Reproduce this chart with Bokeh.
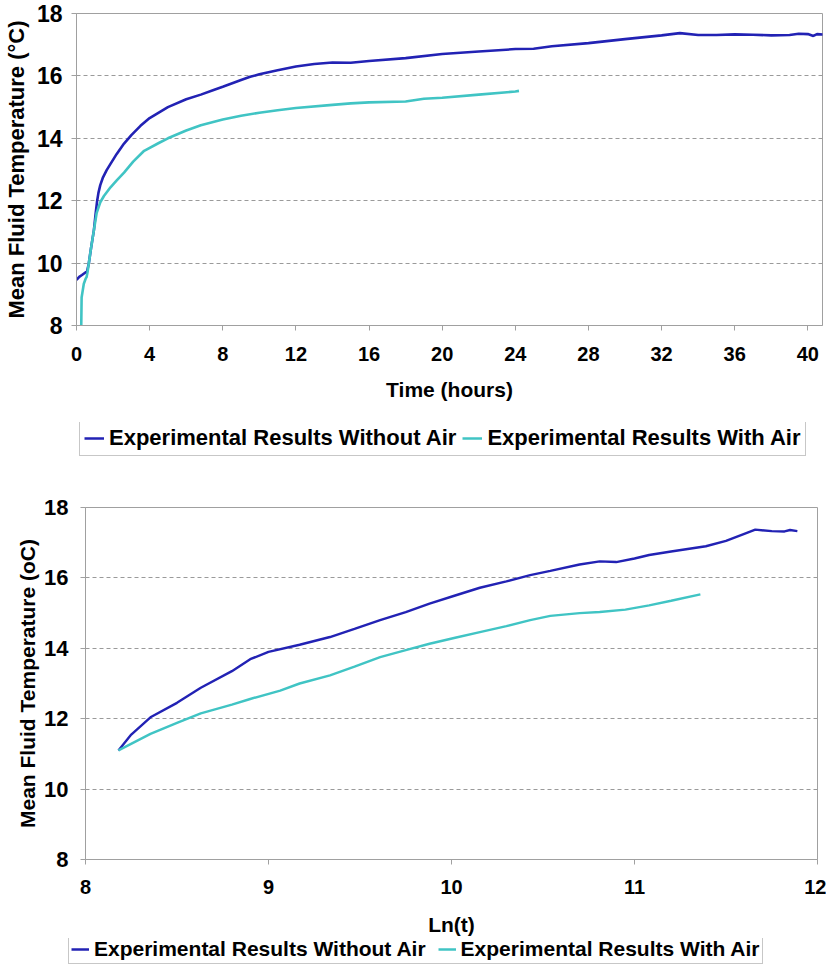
from bokeh.plotting import figure
from bokeh.models import Legend, LegendItem, FixedTicker, Range1d
from bokeh.embed import file_html
from bokeh.resources import INLINE

# ---------------- data: top chart (time in hours) ----------------
t_without = [0, 0.15, 0.3, 0.58, 0.67, 0.8, 0.95, 1.05, 1.13, 1.2, 1.3, 1.45, 1.65, 1.86, 2.2, 2.6, 3, 3.5, 4,
             5, 6, 6.8, 7.5, 8, 9, 9.5, 10, 11, 12, 13, 14, 15, 16, 18, 20, 22, 24, 25, 26, 28, 30, 32, 33,
             34, 35, 36, 37, 38, 39, 39.5, 40, 40.3, 40.5, 41]
T_without = [9.46, 9.56, 9.62, 9.74, 9.98, 10.5, 11.05, 11.6, 12.0, 12.25, 12.5, 12.75, 12.98, 13.18, 13.5,
             13.83, 14.1, 14.4, 14.65, 15.0, 15.25, 15.4, 15.55, 15.65, 15.87, 15.97, 16.05, 16.18, 16.3,
             16.38, 16.43, 16.42, 16.48, 16.57, 16.7, 16.78, 16.86, 16.87, 16.95, 17.05, 17.18, 17.3, 17.37,
             17.31, 17.31, 17.33, 17.32, 17.3, 17.31, 17.35, 17.34, 17.28, 17.34, 17.32]

t_with = [0.26, 0.28, 0.4, 0.5, 0.55, 0.6, 0.67, 0.8, 0.95, 1.1, 1.3, 1.5, 1.86, 2.2, 2.6, 3.1, 3.7, 4.5,
          5, 6, 6.8, 8, 9, 10, 11, 12, 14, 15, 16, 18, 19, 20, 22, 24, 24.2]
T_with = [8.0, 8.9, 9.34, 9.5, 9.55, 9.7, 9.98, 10.5, 11.05, 11.6, 11.95, 12.15, 12.43, 12.65, 12.9,
          13.25, 13.6, 13.85, 14.0, 14.25, 14.42, 14.6, 14.72, 14.82, 14.9, 14.97, 15.07, 15.12, 15.15,
          15.18, 15.27, 15.3, 15.4, 15.5, 15.52]

top_x_ticks = [0, 4, 8, 12, 16, 20, 24, 28, 32, 36, 40]
top_y_ticks = [8, 10, 12, 14, 16, 18]

# ---------------- data: bottom chart (ln t) ----------------
ln_without = [8.18, 8.25, 8.355, 8.5, 8.63, 8.8, 8.9, 9.0, 9.17, 9.336, 9.47, 9.61, 9.75, 9.88, 10.02,
              10.155, 10.3, 10.43, 10.54, 10.7, 10.81, 10.9, 11.0, 11.08, 11.2, 11.39, 11.5, 11.6,
              11.66, 11.75, 11.82, 11.85, 11.89]
Tln_without = [11.1, 11.55, 12.04, 12.45, 12.88, 13.35, 13.69, 13.9, 14.1, 14.32, 14.55, 14.8, 15.03,
               15.27, 15.5, 15.72, 15.9, 16.08, 16.2, 16.38, 16.47, 16.45, 16.55, 16.65, 16.75, 16.9,
               17.05, 17.25, 17.37, 17.33, 17.32, 17.36, 17.33]

ln_with = [8.18, 8.355, 8.5, 8.63, 8.8, 8.9, 9.064, 9.17, 9.336, 9.47, 9.61, 9.75, 9.88, 10.02, 10.155,
           10.3, 10.43, 10.54, 10.7, 10.81, 10.95, 11.08, 11.2, 11.36]
Tln_with = [11.1, 11.57, 11.88, 12.15, 12.4, 12.56, 12.8, 13.0, 13.23, 13.48, 13.75, 13.95, 14.13, 14.3,
            14.46, 14.63, 14.8, 14.92, 15.0, 15.03, 15.1, 15.22, 15.35, 15.53]

bot_x_ticks = [8, 9, 10, 11, 12]
bot_y_ticks = [8, 10, 12, 14, 16, 18]

label_without = "Experimental Results Without Air"
label_with = "Experimental Results With Air"

BLUE = "#2222b4"
CYAN = "#40c4c4"
GRAY = "#a0a0a0"
FONT = "Liberation Sans"
W = 826


def style(p, xticks, yticks, ytick_size, xtick_size, ylabel_size, xlabel_size, ylab_standoff,
          ytick_standoff, xtick_standoff, xlab_standoff):
    p.outline_line_color = GRAY
    p.outline_line_width = 1
    p.xgrid.visible = False
    p.ygrid.grid_line_color = "#9a9a9a"
    p.ygrid.grid_line_dash = "4 3"
    p.ygrid.grid_line_width = 1
    p.xaxis.ticker = FixedTicker(ticks=xticks)
    p.yaxis.ticker = FixedTicker(ticks=yticks)
    for ax in (p.xaxis, p.yaxis):
        ax.axis_line_color = GRAY
        ax.major_tick_line_color = GRAY
        ax.major_tick_out = 5
        ax.major_tick_in = 0
        ax.minor_tick_line_color = None
        ax.major_label_text_color = "black"
        ax.major_label_text_font_style = "bold"
        ax.major_label_text_font = FONT
        ax.axis_label_text_color = "black"
        ax.axis_label_text_font_style = "bold"
        ax.axis_label_text_font = FONT
    p.yaxis.major_label_text_font_size = ytick_size
    p.yaxis.axis_label_text_font_size = ylabel_size
    p.yaxis.axis_label_standoff = ylab_standoff
    p.yaxis.major_label_standoff = ytick_standoff
    p.xaxis.major_label_text_font_size = xtick_size
    p.xaxis.axis_label_text_font_size = xlabel_size
    p.xaxis.major_label_standoff = xtick_standoff
    p.xaxis.axis_label_standoff = xlab_standoff


def legend_strip(height, loc, size, glyph_w, spacing, padding, xs1, ys1, xs2, ys2):
    # a thin figure holding only the legend, placed right under its chart;
    # its proxy lines use the series data but the view is set far away from it
    lp = figure(width=W, height=height, output_backend="svg", toolbar_location=None,
                x_axis_location=None, y_axis_location=None,
                x_range=Range1d(1000, 1001), y_range=Range1d(1000, 1001),
                min_border_left=0, min_border_right=0, min_border_top=0, min_border_bottom=0)
    lp.outline_line_color = None
    lp.xgrid.visible = False
    lp.ygrid.visible = False
    g1 = lp.line(xs1, ys1, line_color=BLUE, line_width=2.5)
    g2 = lp.line(xs2, ys2, line_color=CYAN, line_width=2.5)
    leg = Legend(items=[LegendItem(label=label_without, renderers=[g1]),
                        LegendItem(label=label_with, renderers=[g2])],
                 orientation="horizontal", location=loc)
    leg.label_text_font = FONT
    leg.label_text_font_style = "bold"
    leg.label_text_font_size = size
    leg.label_text_color = "black"
    leg.border_line_color = "#909090"
    leg.border_line_width = 1
    leg.background_fill_color = "white"
    leg.background_fill_alpha = 1
    leg.padding = padding
    leg.margin = 0
    leg.spacing = spacing
    leg.glyph_width = glyph_w
    leg.glyph_height = 18
    leg.label_height = 18
    leg.label_standoff = 5
    lp.add_layout(leg, "center")
    return lp


# ---------------- top figure ----------------
p1 = figure(width=W, height=422, output_backend="svg", toolbar_location=None,
            x_range=Range1d(0, 40.8), y_range=Range1d(8, 18),
            min_border_left=76, min_border_right=4, min_border_top=13, min_border_bottom=97,
            x_axis_label="Time (hours)", y_axis_label="Mean Fluid Temperature (°C)")
p1.line(t_without, T_without, line_color=BLUE, line_width=2.6)
p1.line(t_with, T_with, line_color=CYAN, line_width=2.6)
style(p1, top_x_ticks, top_y_ticks, "23px", "20px", "22px", "21px", 5, 9, 16, 14)
leg1 = legend_strip(38, (79, 4), "22px", 20, 6, 4, t_without, T_without, t_with, T_with)

# ---------------- bottom figure ----------------
p2 = figure(width=W, height=478, output_backend="svg", toolbar_location=None,
            x_range=Range1d(8, 12), y_range=Range1d(8, 18),
            min_border_left=85, min_border_right=9, min_border_top=47, min_border_bottom=79,
            x_axis_label="Ln(t)", y_axis_label="Mean Fluid Temperature (oC)")
p2.line(ln_without, Tln_without, line_color=BLUE, line_width=2.4)
p2.line(ln_with, Tln_with, line_color=CYAN, line_width=2.4)
style(p2, bot_x_ticks, bot_y_ticks, "22px", "20px", "21px", "21px", 2, 12, 15, 16)
leg2 = legend_strip(27, (68, 1), "21px", 18, 12, 2, ln_without, Tln_without, ln_with, Tln_with)

open("out.html", "w").write(file_html([p1, leg1, p2, leg2], INLINE))
